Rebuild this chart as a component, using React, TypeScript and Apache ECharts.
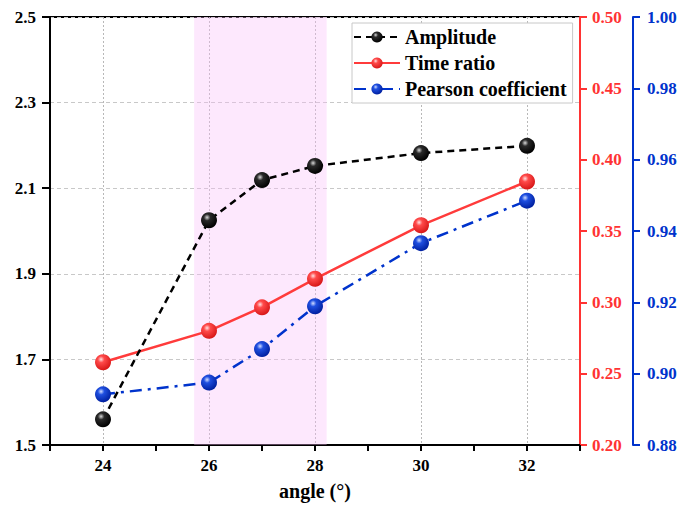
import React, { useEffect, useRef } from "react";
import * as echarts from "echarts";

const angles = [24, 26, 27, 28, 30, 32];
const amplitude = [1.56, 2.025, 2.119, 2.152, 2.182, 2.199];
const timeRatio = [0.258, 0.28, 0.2965, 0.3165, 0.354, 0.3847];
const pearson = [0.8942, 0.8975, 0.9069, 0.9189, 0.9366, 0.9485];
const seriesNames = ["Amplitude", "Time ratio", "Pearson coefficient"];
const shadedRange = [25.72, 28.22];

const FONT = "'Liberation Serif', 'Times New Roman', serif";

function sphere(light: string, mid: string, dark: string) {
  return {
    type: "radial",
    x: 0.38,
    y: 0.32,
    r: 0.68,
    colorStops: [
      { offset: 0, color: light },
      { offset: 0.3, color: mid },
      { offset: 1, color: dark },
    ],
  } as any;
}

export default function App() {
  const ref = useRef<HTMLDivElement>(null);
  useEffect(() => {
    document.body.style.margin = "0";
    if (!ref.current) return;
    const chart = echarts.init(ref.current, null, { renderer: "svg" });
    const pair = (ys: number[]) => angles.map((a, i) => [a, ys[i]]);
    const labelStyle = { fontFamily: FONT, fontWeight: "bold" as const, fontSize: 17 };
    chart.setOption({
      animation: false,
      backgroundColor: "#fff",
      textStyle: { fontFamily: FONT },
      grid: {
        left: 50,
        right: 102,
        top: 17,
        bottom: 59,
        show: true,
        borderColor: "#000",
        borderWidth: 2,
      },
      legend: {
        orient: "vertical",
        left: 352,
        top: 23,
        padding: [3, 6, 3, 1],
        itemWidth: 46,
        itemHeight: 14,
        itemGap: 4,
        borderColor: "#c8c8c8",
        borderWidth: 1,
        backgroundColor: "#fff",
        data: seriesNames,
        textStyle: { ...labelStyle, color: "#000", fontSize: 20, lineHeight: 22 },
      },
      xAxis: {
        type: "value",
        min: 23,
        max: 33,
        interval: 1,
        position: "bottom",
        name: "angle (°)",
        nameLocation: "middle",
        nameGap: 36,
        nameTextStyle: { ...labelStyle, fontSize: 20, color: "#000" },
        axisLine: { lineStyle: { color: "#000", width: 2 } },
        axisTick: { inside: false, length: 6, lineStyle: { color: "#000", width: 2 } },
        axisLabel: {
          ...labelStyle,
          color: "#000",
          margin: 12,
          formatter: (v: number) => (v % 2 === 0 ? String(v) : ""),
        },
        splitLine: {
          show: true,
          lineStyle: { color: ["rgba(0,0,0,0)", "#b8b8b8"], type: [2, 2], width: 1 },
        },
      },
      yAxis: [
        {
          type: "value",
          min: 1.5,
          max: 2.5,
          interval: 0.2,
          position: "left",
          axisLine: { show: true, lineStyle: { color: "#000", width: 2 } },
          axisTick: { show: true, length: 8, lineStyle: { color: "#000", width: 2 } },
          axisLabel: {
            ...labelStyle,
            color: "#000",
            margin: 14,
            formatter: (v: number) => v.toFixed(1),
          },
          splitLine: { show: true, lineStyle: { color: "#c8c8c8", type: [4, 3], width: 1 } },
        },
        {
          type: "value",
          min: 0.2,
          max: 0.5,
          interval: 0.05,
          position: "right",
          offset: 0,
          axisLine: { show: true, lineStyle: { color: "#ff3333", width: 2 } },
          axisTick: { show: true, length: 7, lineStyle: { color: "#ff3333", width: 2 } },
          axisLabel: {
            ...labelStyle,
            color: "#ff3333",
            margin: 12,
            formatter: (v: number) => v.toFixed(2),
          },
          splitLine: { show: false },
        },
        {
          type: "value",
          min: 0.88,
          max: 1.0,
          interval: 0.02,
          position: "right",
          offset: 53,
          axisLine: { show: true, lineStyle: { color: "#0033cc", width: 2 } },
          axisTick: { show: true, length: 7, lineStyle: { color: "#0033cc", width: 2 } },
          axisLabel: {
            ...labelStyle,
            color: "#0033cc",
            margin: 14,
            formatter: (v: number) => v.toFixed(2),
          },
          splitLine: { show: false },
        },
      ],
      series: [
        {
          name: seriesNames[0],
          type: "line",
          yAxisIndex: 0,
          data: pair(amplitude),
          symbol: "circle",
          symbolSize: 16,
          z: 4,
          lineStyle: { color: "#000", width: 2.5, type: [7, 5] },
          itemStyle: { color: sphere("#d8d8d8", "#2a2a2a", "#000") },
          markArea: {
            silent: true,
            itemStyle: { color: "rgba(248,190,248,0.35)" },
            data: [[{ xAxis: shadedRange[0] }, { xAxis: shadedRange[1] }]],
          },
        },
        {
          name: seriesNames[1],
          type: "line",
          yAxisIndex: 1,
          data: pair(timeRatio),
          symbol: "circle",
          symbolSize: 16,
          z: 3,
          lineStyle: { color: "#ff3b3b", width: 2.5 },
          itemStyle: { color: sphere("#ffe0e0", "#ff4a4a", "#d81818") },
        },
        {
          name: seriesNames[2],
          type: "line",
          yAxisIndex: 2,
          data: pair(pearson),
          symbol: "circle",
          symbolSize: 16,
          z: 3,
          lineStyle: { color: "#0033cc", width: 2.5, type: [12, 6, 3, 6] },
          itemStyle: { color: sphere("#d0dcff", "#1f4fe0", "#0020a0") },
        },
      ],
    });
    return () => chart.dispose();
  }, []);
  return <div ref={ref} style={{ width: 682, height: 506 }} />;
}
